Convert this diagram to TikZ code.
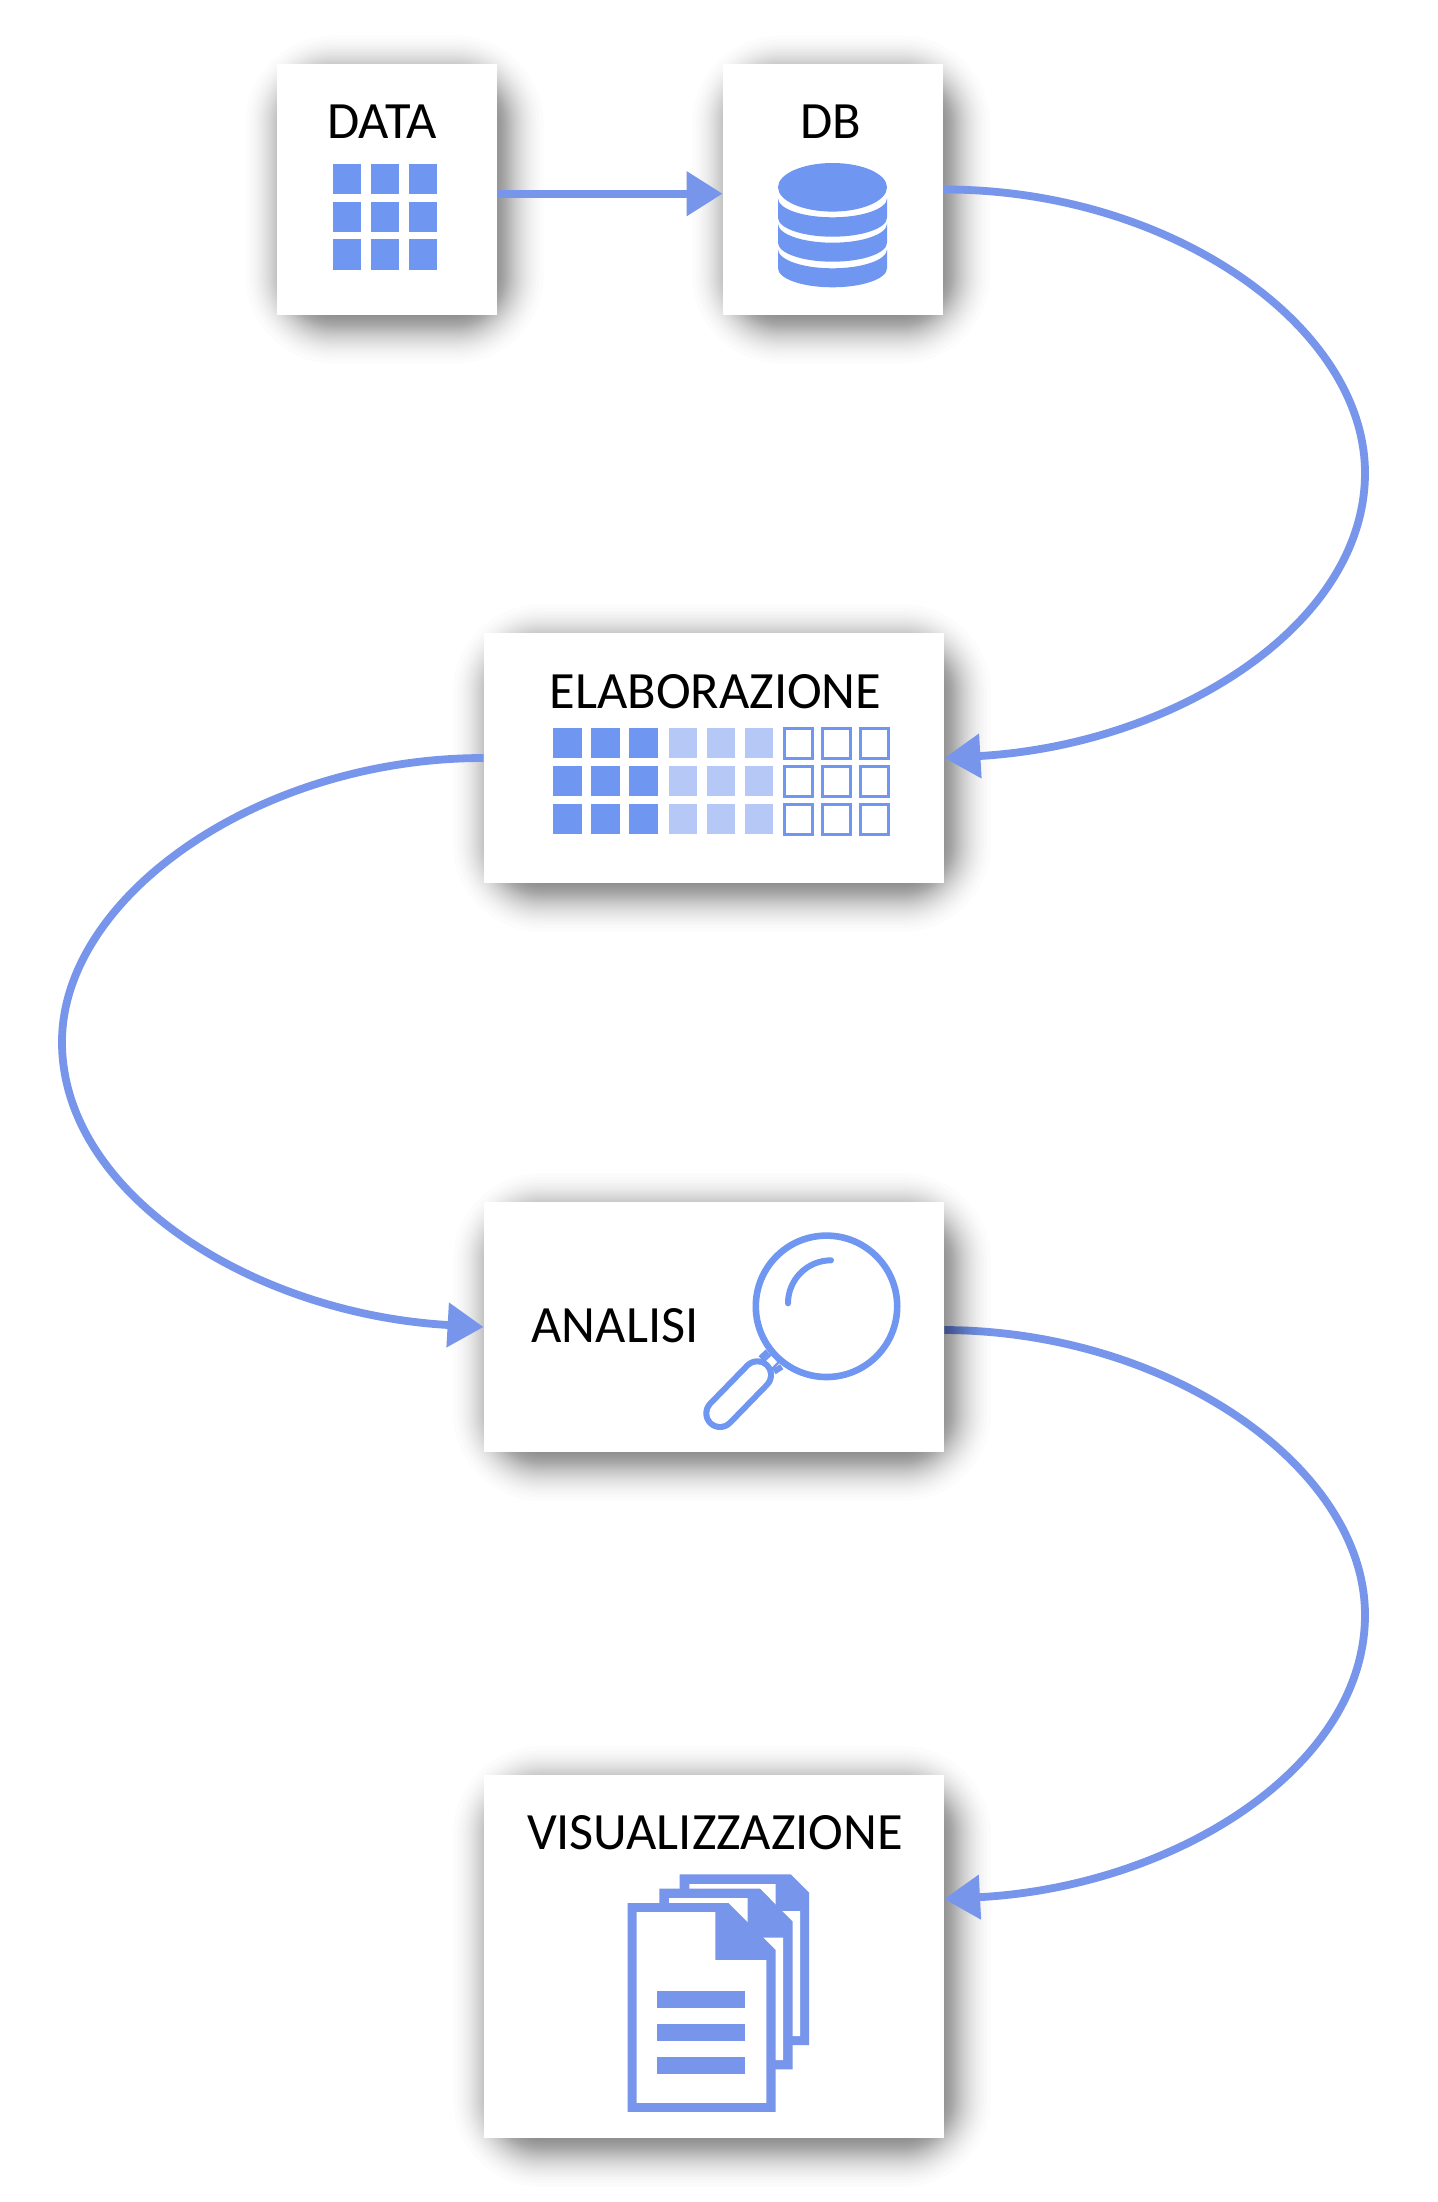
\documentclass[tikz,border=0pt]{standalone}
\usepackage{fontspec}
\setmainfont{Carlito}
\usetikzlibrary{arrows.meta,backgrounds}
\definecolor{iconblue}{HTML}{6F96F0}
\definecolor{iconlight}{HTML}{B6C9F6}
\definecolor{flowblue}{HTML}{7795EB}
\tikzset{
    blockbox/.style={fill=white,inner sep=0pt,minimum width=#1*0.5pt},
    blocklabel/.style={anchor=base,inner sep=0pt,text=black,font=\fontsize{26.2}{26}\selectfont},
    flowline/.style={draw=flowblue,line width=3.9pt,-{Triangle[length=18pt,width=21.5pt]}},
}
\newcommand{\softshadow}[4]{
    \foreach \k in {1,...,60}{
        \pgfmathsetmacro{\pp}{(\k-0.5)/60}
        \pgfmathsetmacro{\ii}{\pp<0.5 ? -45*(1-sqrt(2*\pp)) : 45*(1-sqrt(2*(1-\pp)))}
        \pgfmathsetmacro{\rr}{(\ii+50)*0.5}
        \fill[black,opacity=0.0122,rounded corners=\rr pt] ({#1+8-(\ii)},{#2+10-(\ii)}) rectangle ({#3+8+(\ii)},{#4+10+(\ii)});
    }
}
\begin{document}
\begin{tikzpicture}[x=0.5pt,y=-0.5pt]
    \useasboundingbox (0,0) rectangle (1438,2202);
    \node[blockbox=220,minimum height=125.2pt] (data) at (386.5,189.5) {};
    \node[blockbox=220,minimum height=125.2pt] (db) at (833,189.5) {};
    \node[blockbox=460,minimum height=125pt] (elab) at (714,758) {};
    \node[blockbox=460,minimum height=125pt] (analisi) at (714,1327) {};
    \node[blockbox=460,minimum height=181.5pt] (vis) at (714,1956.5) {};
    \coordinate (visin) at (944,1899);

    \begin{pgfonlayer}{background}
        \fill[white] (0,0) rectangle (1438,2202);
        \softshadow{276.5}{64.5}{496.5}{314.5}
        \softshadow{723}{64.5}{943}{314.5}
        \softshadow{484}{633}{944}{883}
        \softshadow{484}{1775}{944}{2138}
        % third connector goes under the shadow of its box
        \draw[flowline] (analisi.east) ++(0,3) .. controls (1170,1331) and (1365,1468) .. (1365,1615) .. controls (1365,1767) and (1175,1887) .. (visin);
        \softshadow{484}{1202}{944}{1452}
    \end{pgfonlayer}

    \draw[flowline] ([yshift=-2.1pt]data.east) -- ([yshift=-2.1pt]db.west);
    \draw[flowline] (db.east) .. controls (1170,189) and (1365,326) .. (1365,473) .. controls (1365,625) and (1175,745) .. (elab.east);
    \draw[flowline] (elab.west) .. controls (258,758) and (62,897) .. (62,1042) .. controls (62,1194) and (253,1314) .. (analisi.west);

    \node[blocklabel] (datalabel) at (382,138) {DATA};
    \node[blocklabel] (dblabel) at (831,138) {DB};
    \node[blocklabel] (elablabel) at (715.5,708) {ELABORAZIONE};
    \node[blocklabel] (analisilabel) at (615,1342) {ANALISI};
    \node[blocklabel] (vislabel) at (715,1849) {VISUALIZZAZIONE};

    % table icon
    \foreach \cx in {332.6,370.6,408.6}
        \foreach \cy in {164,201.6,239.3}
            \fill[iconblue] (\cx,\cy) rectangle ++(28.2,30.3);

    % database icon
    \fill[iconblue] (778,198.3) arc[start angle=180,end angle=0,x radius=54.5,y radius=19] -- (887,217.7) arc[start angle=0,end angle=180,x radius=54.5,y radius=19] -- cycle;
    \fill[iconblue] (778,223.7) arc[start angle=180,end angle=0,x radius=54.5,y radius=19] -- (887,242.7) arc[start angle=0,end angle=180,x radius=54.5,y radius=19] -- cycle;
    \fill[iconblue] (778,249.3) arc[start angle=180,end angle=0,x radius=54.5,y radius=19] -- (887,268.3) arc[start angle=0,end angle=180,x radius=54.5,y radius=19] -- cycle;
    \fill[iconblue] (832.5,187.3) ellipse[x radius=54.5,y radius=24.3];

    % three groups of cells
    \foreach \cy in {728.3,766.2,804}{
        \foreach \cx in {553.3,591.3,629.3}
            \fill[iconblue] (\cx,\cy) rectangle ++(28.4,30);
        \foreach \cx in {669,707,745}
            \fill[iconlight] (\cx,\cy) rectangle ++(28.4,30);
        \foreach \cx in {784.2,822.2,860.4}
            \draw[iconblue,line width=1.5pt] (\cx,\cy+0.5) rectangle ++(28,29.5);
    }

    % magnifier
    \draw[iconblue,line width=3.3pt] (826.5,1306.3) circle (70.7);
    \draw[iconblue,line width=3pt,line cap=round] (831,1260.3) arc[start angle=270,end angle=180,radius=43];
    \draw[iconblue,line width=3pt] (760.7,1358.3) -- (767.7,1351.7) (774,1371.7) -- (781.7,1366.7);
    \draw[iconblue,line width=1.2pt] (764,1361) -- (771.5,1354) -- (779,1362) -- (772,1369) -- cycle;
    \draw[iconblue,line width=16.7pt,line cap=round] (720,1413.3) -- (757.3,1375);
    \draw[white,line width=10.7pt,line cap=round] (720,1413.3) -- (757.3,1375);

    % pages icon, in zoom units
    \begin{scope}[shift={(470,1760)},x=0.1667pt,y=-0.1667pt]
        \fill[flowblue] (629,343) -- (962,343) -- (1017,398) -- (1017,855) -- (629,855) -- cycle;
        \fill[white] (658,372) -- (917,372) -- (917,453) -- (990,453) -- (990,828) -- (658,828) -- cycle;
        \fill[flowblue] (568,386) -- (870,386) -- (968,485) -- (968,928) -- (568,928) -- cycle;
        \fill[white] (597,414) -- (833,414) -- (833,533) -- (939,533) -- (939,900) -- (597,900) -- cycle;
        \fill[flowblue] (473,429) -- (775,429) -- (917,570) -- (917,1055) -- (473,1055) -- cycle;
        \fill[white] (500,456) -- (736,456) -- (736,600) -- (889,600) -- (889,1028) -- (500,1028) -- cycle;
        \fill[flowblue] (562,693) rectangle (825,744);
        \fill[flowblue] (562,791) rectangle (825,842);
        \fill[flowblue] (562,892) rectangle (825,942);
    \end{scope}
\end{tikzpicture}
\end{document}
